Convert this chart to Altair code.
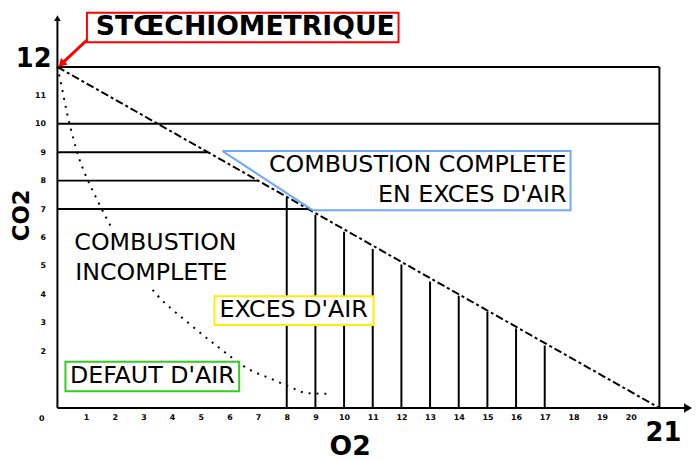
import altair as alt
import pandas as pd

# ---- data -------------------------------------------------------------
# complete combustion line (theoretical): CO2 % vs O2 %
complete_o2 = [0, 21]
complete_co2 = [12, 0]

# incomplete combustion curve (dotted)
incomplete_o2 = [0.0, 0.15, 0.33, 0.55, 0.75, 1.0, 1.35, 1.7, 2.3, 2.9, 3.5, 4.5, 5.6, 6.7, 7.4, 8.2, 8.7, 9.4]
incomplete_co2 = [12.0, 11.3, 10.4, 9.5, 8.8, 8.15, 7.4, 6.7, 5.6, 4.7, 3.95, 3.05, 2.15, 1.35, 1.05, 0.7, 0.52, 0.5]

# horizontal reference lines (CO2 level, O2 where they stop)
hline_co2 = [12, 10, 9, 8, 7]
hline_o2_end = [21, 21, 5.25, 7.0, 8.75]

# vertical reference lines (O2 level, CO2 where they stop)
vline_o2 = [8, 9, 10, 11, 12, 13, 14, 15, 16, 17, 21]
vline_co2_top = [7.4, 6.8, 6.2, 5.6, 5.05, 4.45, 3.95, 3.38, 2.8, 2.2, 12]

# tick labels
x_ticks = list(range(1, 21))
y_ticks = list(range(2, 12))

# ---- scales / axes ----------------------------------------------------
PX_X = 29.0     # pixels per O2 unit
PX_Y = 28.75    # pixels per CO2 unit
W, H = 641, 400
xscale = alt.Scale(domain=[0, W / PX_X], nice=False, zero=False)
yscale = alt.Scale(domain=[0, H / PX_Y], nice=False, zero=False)

xaxis = alt.Axis(values=x_ticks, title=None, domain=False, ticks=False, tickSize=0,
                 grid=False, labelFont="DejaVu Sans", labelFontSize=8,
                 labelFontWeight="bold", labelPadding=6, labelFlush=False,
                 labelOverlap=False, labelColor="black")
yaxis = alt.Axis(values=y_ticks, title=None, domain=False, ticks=False, tickSize=0,
                 grid=False, labelFont="DejaVu Sans", labelFontSize=8,
                 labelFontWeight="bold", labelPadding=12, labelFlush=False,
                 labelOverlap=False, labelColor="black")


def X(f):
    return alt.X(f, type="quantitative", scale=xscale, axis=xaxis)


def Y(f):
    return alt.Y(f, type="quantitative", scale=yscale, axis=yaxis)


FONT = "DejaVu Sans"

# ---- layers -----------------------------------------------------------
hl = pd.DataFrame({"co2": hline_co2, "o2s": [0] * len(hline_co2), "o2e": hline_o2_end})
hlines = alt.Chart(hl).mark_rule(color="black", strokeWidth=2).encode(
    x=X("o2s"), x2=alt.X2("o2e"), y=Y("co2"))

vl = pd.DataFrame({"o2": vline_o2, "base": [0] * len(vline_o2), "top": vline_co2_top})
vlines = alt.Chart(vl).mark_rule(color="black", strokeWidth=2).encode(
    x=X("o2"), y=Y("base"), y2=alt.Y2("top"))

axes_df = pd.DataFrame({"x": [0, 0], "y": [0, 0], "x2": [0, 21.95], "y2": [13.62, 0]})
axes_lines = alt.Chart(axes_df).mark_rule(color="black", strokeWidth=2).encode(
    x=X("x"), y=Y("y"), x2=alt.X2("x2"), y2=alt.Y2("y2"))

arrow_up = alt.Chart(pd.DataFrame({"x": [0], "y": [13.72]})).mark_point(
    shape="triangle-up", filled=True, color="black", size=45, opacity=1).encode(x=X("x"), y=Y("y"))
arrow_right = alt.Chart(pd.DataFrame({"x": [22.0], "y": [0]})).mark_point(
    shape="triangle-right", filled=True, color="black", size=90, opacity=1).encode(x=X("x"), y=Y("y"))

comp = pd.DataFrame({"o2": complete_o2, "co2": complete_co2})
complete_line = alt.Chart(comp).mark_line(color="black", strokeWidth=2, strokeDash=[8, 3, 3, 3]).encode(
    x=X("o2"), y=Y("co2"))

inc = pd.DataFrame({"o2": incomplete_o2, "co2": incomplete_co2, "i": range(len(incomplete_o2))})
incomplete_line = alt.Chart(inc).mark_line(color="black", strokeWidth=2, strokeDash=[2, 6],
                                           interpolate="monotone").encode(
    x=X("o2"), y=Y("co2"), order="i:O")

# boxes around labels
boxes = pd.DataFrame({
    "x": [1.03, 5.48, 0.28, 0.48],
    "x2": [11.90, 11.03, 6.34, 6.34],
    "y": [12.87, 2.92, 0.59, 4.28],
    "y2": [13.91, 3.93, 1.63, 6.26],
    "c": ["#ff0000", "#ffee00", "#33cc22", "#ffffff"],
})
box_layer = alt.Chart(boxes).mark_rect(fill="white", strokeWidth=2).encode(
    x=X("x"), x2=alt.X2("x2"), y=Y("y"), y2=alt.Y2("y2"),
    stroke=alt.Stroke("c:N", scale=None))

trap = pd.DataFrame({"x": [5.76, 17.9, 17.9, 8.9, 5.76],
                     "y": [9.04, 9.04, 6.96, 6.96, 9.04],
                     "i": [0, 1, 2, 3, 4]})
trap_layer = alt.Chart(trap).mark_line(color="#6fa8ff", strokeWidth=2).encode(
    x=X("x"), y=Y("y"), order="i:O")

red_arrow = alt.Chart(pd.DataFrame({"x": [1.03], "y": [12.95], "x2": [0.2], "y2": [12.16]})).mark_rule(
    color="#ff0000", strokeWidth=3).encode(x=X("x"), y=Y("y"), x2=alt.X2("x2"), y2=alt.Y2("y2"))
red_head = alt.Chart(pd.DataFrame({"x": [0.14], "y": [12.1]})).mark_point(
    shape="triangle-up", filled=True, color="#ff0000", size=90, angle=225, opacity=1).encode(
    x=X("x"), y=Y("y"))


def text_layer(rows, **kw):
    df = pd.DataFrame(rows, columns=["t", "x", "y"])
    return alt.Chart(df).mark_text(font=FONT, color="black", **kw).encode(
        x=X("x"), y=Y("y"), text="t:N")


t_title = text_layer([["STŒCHIOMETRIQUE", 1.34, 13.39]], fontSize=27, fontWeight="bold",
                     align="left", baseline="middle")
t_complete = text_layer([["COMBUSTION COMPLETE", 17.76, 8.56], ["EN EXCES D'AIR", 17.76, 7.48]],
                        fontSize=24, align="right", baseline="middle")
t_incomplete = text_layer([["COMBUSTION", 0.59, 5.81], ["INCOMPLETE", 0.62, 4.73]],
                          fontSize=24, align="left", baseline="middle")
t_boxes = text_layer([["EXCES D'AIR", 8.24, 3.44], ["DEFAUT D'AIR", 3.31, 1.11]],
                     fontSize=24, align="center", baseline="middle")
t_big = text_layer([["12", -0.83, 12.26], ["21", 21.14, -0.90]], fontSize=26, fontWeight="bold",
                   align="center", baseline="middle")
t_zero = text_layer([["0", -0.55, -0.38]], fontSize=8, fontWeight="bold",
                    align="center", baseline="middle")
t_o2 = text_layer([["O2", 10.21, -1.39]], fontSize=27, fontWeight="bold",
                  align="center", baseline="middle")
t_co2 = text_layer([["CO2", -1.24, 6.78]], fontSize=23, fontWeight="bold",
                   align="center", baseline="middle", angle=270)

chart = alt.layer(
    hlines, vlines, complete_line, incomplete_line, axes_lines, arrow_up, arrow_right,
    box_layer, trap_layer, red_arrow, red_head,
    t_title, t_complete, t_incomplete, t_boxes, t_big, t_zero, t_o2, t_co2,
).properties(
    width=W, height=H,
    padding={"left": 50, "top": 2, "right": 1, "bottom": 50},
    autosize=alt.AutoSizeParams(type="none"),
    background="white",
).configure_view(stroke=None)

chart.save("out.html", embed_options={"renderer": "svg", "actions": False})
